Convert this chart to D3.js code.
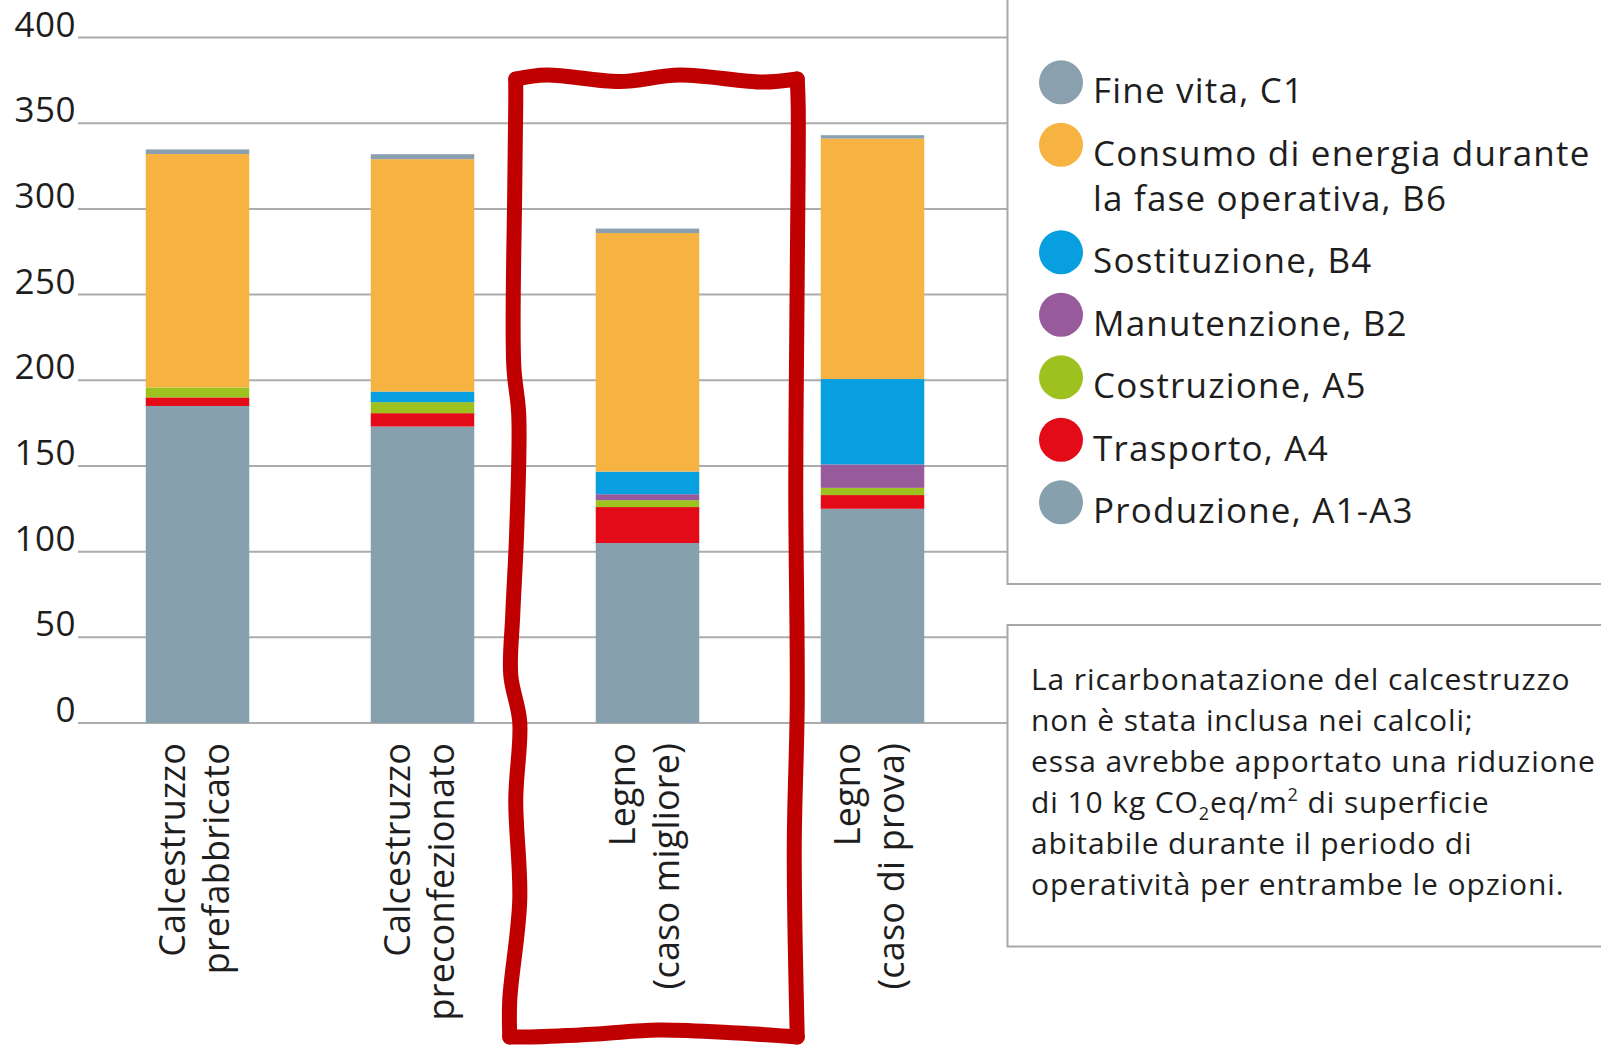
<!DOCTYPE html>
<html>
<head>
<meta charset="utf-8">
<script src="https://cdn.jsdelivr.net/npm/d3@7"></script>
<style>
  body { margin: 0; background: #fff; }
  text { font-family: "Open Sans", sans-serif; fill: #1e1e1e; }
</style>
</head>
<body>
<div id="chart"></div>
<script>
// categories and their two-line labels
const categories = ["Calcestruzzo prefabbricato", "Calcestruzzo preconfezionato", "Legno (caso migliore)", "Legno (caso di prova)"];
const labelLines = [["Calcestruzzo", "prefabbricato"], ["Calcestruzzo", "preconfezionato"], ["Legno", "(caso migliore)"], ["Legno", "(caso di prova)"]];

// series values, kg CO2eq/m2 (bottom to top of each bar)
const produzione   = [185, 173, 105, 125];
const trasporto    = [5, 7.8, 21, 8];
const costruzione  = [5.8, 6.4, 4, 4.2];
const manutenzione = [0, 0, 3.5, 13.7];
const sostituzione = [0, 6.2, 13.2, 49.8];
const energia      = [136.2, 135.6, 139.2, 140.3];
const fineVita     = [2.7, 2.9, 2.6, 2];

const yTicks = [0, 50, 100, 150, 200, 250, 300, 350, 400];

const keys = ["produzione", "trasporto", "costruzione", "manutenzione", "sostituzione", "energia", "fineVita"];
const colors = {
  produzione: "#86a0ae", trasporto: "#e20b17", costruzione: "#9dc11f",
  manutenzione: "#975a9b", sostituzione: "#089fe0", energia: "#f6b342", fineVita: "#8aa0ae"
};
// legend, top to bottom
const legendKeys = ["fineVita", "energia", "sostituzione", "manutenzione", "costruzione", "trasporto", "produzione"];
const legendLabels = [["Fine vita, C1"], ["Consumo di energia durante", "la fase operativa, B6"], ["Sostituzione, B4"],
  ["Manutenzione, B2"], ["Costruzione, A5"], ["Trasporto, A4"], ["Produzione, A1-A3"]];

const noteLines = ["La ricarbonatazione del calcestruzzo", "non è stata inclusa nei calcoli;",
  "essa avrebbe apportato una riduzione", "CO2LINE", "abitabile durante il periodo di",
  "operatività per entrambe le opzioni."];

const W = 1601, H = 1050;
const svg = d3.select("#chart").append("svg")
  .attr("width", W).attr("height", H);

const table = categories.map((c, i) => ({
  cat: c, produzione: produzione[i], trasporto: trasporto[i], costruzione: costruzione[i],
  manutenzione: manutenzione[i], sostituzione: sostituzione[i], energia: energia[i], fineVita: fineVita[i]
}));

const x = d3.scaleBand().domain(categories).range([85, 985]).paddingInner(0.54).paddingOuter(0.27);
const y = d3.scaleLinear().domain([0, 400]).range([723, 37.5]);

// grid lines
svg.append("g").selectAll("line").data(yTicks).join("line")
  .attr("x1", 78).attr("x2", 1007)
  .attr("y1", d => y(d)).attr("y2", d => y(d))
  .attr("stroke", "#acacac").attr("stroke-width", 2);

// y tick labels
svg.append("g").selectAll("text").data(yTicks).join("text")
  .attr("x", 76).attr("y", d => y(d) - 1)
  .attr("text-anchor", "end")
  .style("font-size", "35px")
  .style("letter-spacing", "0.5px")
  .text(d => d);

// stacked bars
const series = d3.stack().keys(keys)(table);
svg.append("g").selectAll("g").data(series).join("g")
  .attr("fill", d => colors[d.key])
  .selectAll("rect").data(d => d).join("rect")
  .attr("x", d => x(d.data.cat))
  .attr("width", x.bandwidth())
  .attr("y", d => y(d[1]))
  .attr("height", d => y(d[0]) - y(d[1]));

// category labels, rotated
const xl = svg.append("g").selectAll("g").data(categories).join("g")
  .attr("transform", d => `translate(${x(d) + x.bandwidth() / 2},743) rotate(-90)`);
xl.selectAll("text").data((d, i) => labelLines[i]).join("text")
  .attr("text-anchor", "end")
  .attr("y", (d, j) => j === 0 ? -13 : 31)
  .style("font-size", "36px")
  .style("letter-spacing", "0.2px")
  .text(d => d);

// legend box
svg.append("rect").attr("x", 1007.5).attr("y", -3).attr("width", 700).attr("height", 587)
  .attr("fill", "none").attr("stroke", "#a8a8a8").attr("stroke-width", 2);

let ly = 103.3;
legendKeys.forEach((k, i) => {
  svg.append("circle").attr("cx", 1061).attr("cy", ly - 21).attr("r", 22).attr("fill", colors[k]);
  legendLabels[i].forEach((t, j) => {
    svg.append("text").attr("x", 1093).attr("y", ly + j * 45)
      .style("font-size", "35px").style("letter-spacing", "1.2px").text(t);
  });
  ly += 62.5 + (legendLabels[i].length - 1) * 45;
});

// note box
svg.append("rect").attr("x", 1007.5).attr("y", 625).attr("width", 700).attr("height", 321.5)
  .attr("fill", "none").attr("stroke", "#a8a8a8").attr("stroke-width", 2);

const note = svg.append("g").style("font-size", "30px").style("letter-spacing", "0.9px");
noteLines.forEach((t, i) => {
  const tx = note.append("text").attr("x", 1031).attr("y", 690 + i * 41);
  if (t === "CO2LINE") {
    tx.append("tspan").text("di 10 kg CO");
    tx.append("tspan").attr("dy", 7).style("font-size", "18px").text("2");
    tx.append("tspan").attr("dy", -7).text("eq/m");
    tx.append("tspan").attr("dy", -12).style("font-size", "18px").text("2");
    tx.append("tspan").attr("dy", 12).text(" di superficie");
  } else {
    tx.text(t);
  }
});

// hand-drawn highlight around the third bar, one wobbly stroke per side
const bx0 = x(categories[2]) - 80, bx1 = x(categories[2]) + x.bandwidth() + 98;
const yTop = 79, yBot = 1037;
const sides = [
  [[bx0, yTop], [bx0 + 31, yTop - 4], [bx0 + 104, yTop + 2.5], [bx0 + 164, yTop - 4], [bx0 + 247, yTop + 3], [bx1, yTop]],
  [[bx1, yTop], [bx1 + 1, yTop + 30], [bx1, 274], [bx1 - 1.5, 487], [bx1, 701], [bx1 - 3, 850], [bx1, yBot]],
  [[bx1, yBot], [bx1 - 60, yBot - 4], [bx1 - 140, yBot - 7], [bx1 - 200, yBot - 3], [bx0 + 15, yBot], [bx0 - 6, yBot]],
  [[bx0 - 6, yBot], [bx0 - 6, 1000], [bx0 + 4, 900], [bx0, 800], [bx0 + 4, 722], [bx0 - 5, 675],
   [bx0 - 3, 615], [bx0 + 1, 530], [bx0 + 3, 415], [bx0 - 2, 365], [bx0 - 1, 188], [bx0, 103], [bx0, yTop]]
];
const wobble = d3.line().curve(d3.curveCatmullRom.alpha(0.5));
svg.append("g").selectAll("path").data(sides).join("path")
  .attr("d", d => wobble(d))
  .attr("fill", "none").attr("stroke", "#c00000").attr("stroke-width", 15)
  .attr("stroke-linecap", "round");
</script>
</body>
</html>
